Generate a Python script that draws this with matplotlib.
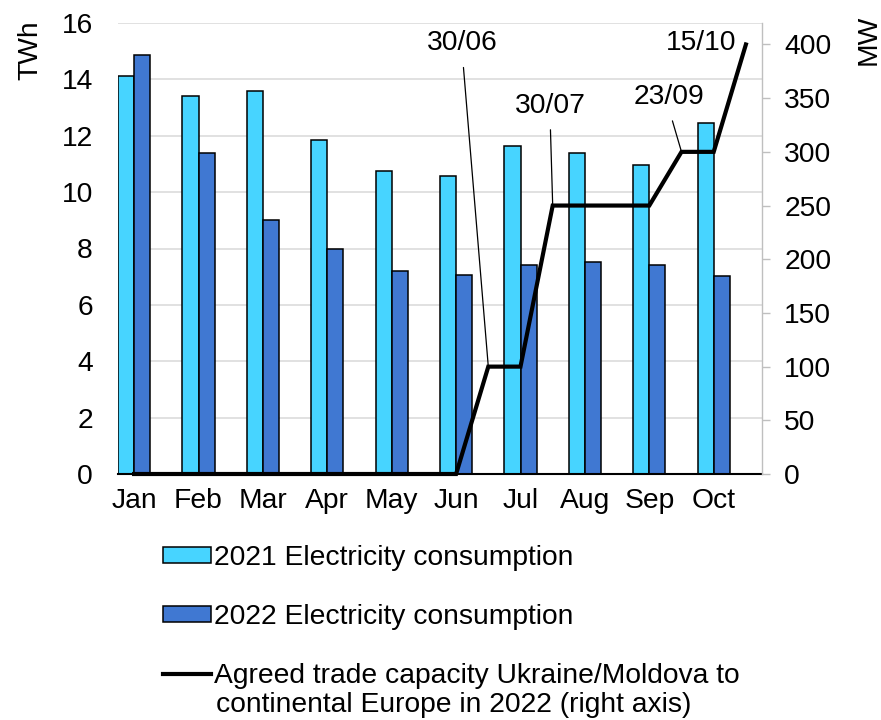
import numpy as np
import matplotlib
matplotlib.use("Agg")
import matplotlib.pyplot as plt
from matplotlib.patches import Patch
from matplotlib.lines import Line2D

plt.rcParams['font.family'] = ['Liberation Sans', 'DejaVu Sans']

months = ["Jan", "Feb", "Mar", "Apr", "May", "Jun", "Jul", "Aug", "Sep", "Oct"]
consumption_2021 = [14.12, 13.40, 13.57, 11.84, 10.76, 10.58, 11.63, 11.38, 10.95, 12.46]
consumption_2022 = [14.88, 11.39, 9.00, 7.99, 7.21, 7.06, 7.41, 7.53, 7.42, 7.02]
# Agreed trade capacity (MW), sampled twice per month starting at Jan
capacity_mw = [0, 0, 0, 0, 0, 0, 0, 0, 0, 0, 0,
               100, 100, 250, 250, 250, 250, 300, 300, 400]
milestones = [("30/06", 11), ("30/07", 13), ("23/09", 17), ("15/10", 19)]

c2021 = "#47D4FF"
c2022 = "#4078D2"
fs = 20.3

fig = plt.figure(figsize=(8.81, 7.2), dpi=100)
ax = fig.add_axes([118 / 881, 1 - 474 / 720, 644 / 881, 451 / 720])
ax2 = ax.twinx()

x = np.arange(len(months))
w = 0.25
ax.bar(x - w / 2, consumption_2021, width=w, color=c2021, edgecolor="black",
       linewidth=1.1, zorder=2)
ax.bar(x + w / 2, consumption_2022, width=w, color=c2022, edgecolor="black",
       linewidth=1.1, zorder=2)

ax.set_xlim(-0.25, 9.75)
ax.set_ylim(0, 16)
ax.set_yticks(np.arange(0, 17, 2))
ax.set_xticks(x)
ax.set_xticklabels(months)
ax.grid(axis="y", color="#d9d9d9", linewidth=1.1)
ax.set_axisbelow(True)
ax.tick_params(axis="y", length=0, pad=18, labelsize=fs)
ax.tick_params(axis="x", length=0, pad=10, labelsize=fs)
for s in ["left", "top", "right"]:
    ax.spines[s].set_visible(False)
ax.spines["bottom"].set_color("black")
ax.spines["bottom"].set_linewidth(1.5)
ax.spines["bottom"].set_zorder(3)

cap_x = np.arange(len(capacity_mw)) / 2
ax2.plot(cap_x, capacity_mw, color="black", linewidth=3, clip_on=False,
         zorder=4, solid_joinstyle="miter")
ax2.set_ylim(0, 420)
ax2.set_yticks(np.arange(0, 401, 50))
ax2.tick_params(axis="y", length=6, color="#bfbfbf", width=1, pad=10,
                labelsize=fs)
for s in ["left", "top", "bottom"]:
    ax2.spines[s].set_visible(False)
ax2.spines["right"].set_color("#bfbfbf")
ax2.spines["right"].set_linewidth(1)

# Milestone labels with leader lines
label_pos = {"30/06": (5.10, 401), "30/07": (6.46, 343), "23/09": (8.31, 351),
             "15/10": (8.81, 401)}
for text, idx in milestones:
    tx, ty = label_pos[text]
    if text == "15/10":
        ax2.text(tx, ty, text, ha="center", va="center", fontsize=fs)
    else:
        ax2.annotate(text, xy=(cap_x[idx], capacity_mw[idx]), xytext=(tx, ty),
                     ha="center", va="center", fontsize=fs,
                     arrowprops=dict(arrowstyle="-", color="black", lw=0.9,
                                     relpos=(0.5, 0), shrinkA=6, shrinkB=0))

fig.text(30 / 881, 1 - 50 / 720, "TWh", rotation=90, ha="center", va="center",
         fontsize=fs)
fig.text(869 / 881, 1 - 40 / 720, "MW", rotation=90, ha="center", va="center",
         fontsize=fs)

handles = [
    Patch(facecolor=c2021, edgecolor="black", linewidth=1.1),
    Patch(facecolor=c2022, edgecolor="black", linewidth=1.1),
    Line2D([], [], color="black", linewidth=3),
]
labels = ["2021 Electricity consumption", "2022 Electricity consumption",
          "Agreed trade capacity Ukraine/Moldova to"]
fig.legend(handles, labels, loc="upper left",
           bbox_to_anchor=(163 / 881, 1 - 545 / 720), frameon=False,
           fontsize=fs, handlelength=1.72, handleheight=0.53, handletextpad=0.1,
           labelspacing=1.17, borderpad=0, borderaxespad=0)
fig.text(216 / 881, 1 - 712 / 720, "continental Europe in 2022 (right axis)",
         ha="left", va="baseline", fontsize=fs)

fig.savefig("out.png", dpi=100)
